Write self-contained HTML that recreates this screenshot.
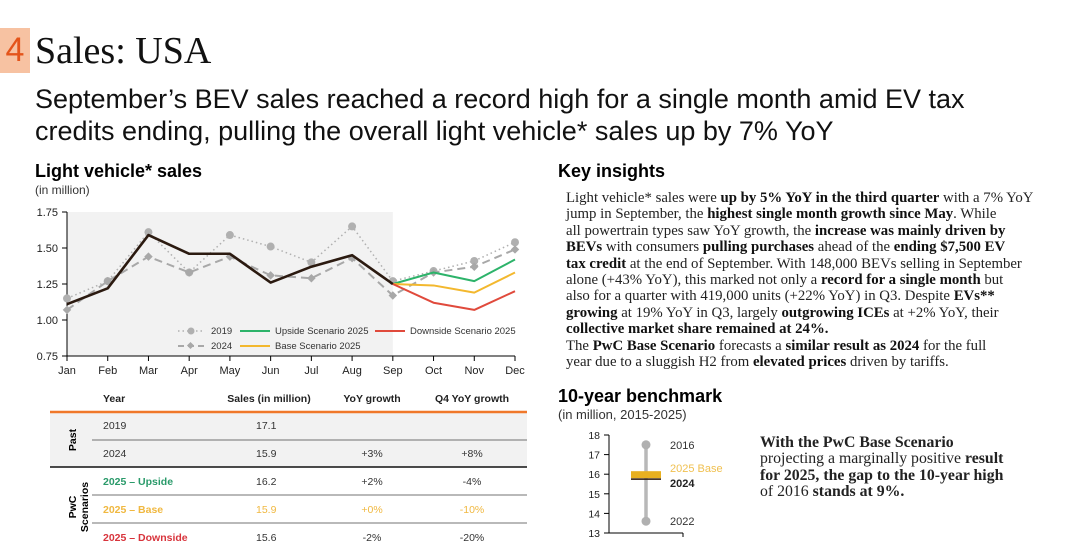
<!DOCTYPE html>
<html><head><meta charset="utf-8">
<style>
body{margin:0;width:1080px;height:560px;background:#fff;position:relative;overflow:hidden;font-family:"Liberation Sans",sans-serif;color:#000}
.a{position:absolute;white-space:nowrap}
.serif{font-family:"Liberation Serif",serif}
#ins{left:566px;top:190px;font-size:14.8px;line-height:16.4px;color:#222}
#ins b{color:#111}
#bm{left:760px;top:435px;font-size:15.8px;line-height:16.4px;color:#222}
</style></head><body>
<div class="a" style="left:0;top:28px;width:30px;height:45px;background:#f7c2a2;color:#e4541a;font-size:34px;line-height:45px;text-align:center">4</div>
<div class="a serif" style="left:35px;top:29px;font-size:38px;line-height:44px;color:#111">Sales: USA</div>
<div class="a" style="left:35px;top:83px;font-size:27px;line-height:32px;color:#111">September’s BEV sales reached a record high for a single month amid EV tax<br>credits ending, pulling the overall light vehicle* sales up by 7% YoY</div>
<div class="a" style="left:35px;top:161px;font-size:18px;font-weight:bold">Light vehicle* sales</div>
<div class="a" style="left:35px;top:183px;font-size:12px;color:#333">(in million)</div>
<div class="a" style="left:558px;top:161px;font-size:18px;font-weight:bold">Key insights</div>
<div class="a serif" id="ins">Light vehicle* sales were <b>up by 5% YoY in the third quarter</b> with a 7% YoY<br>jump in September, the <b>highest single month growth since May</b>. While<br>all powertrain types saw YoY growth, the <b>increase was mainly driven by</b><br><b>BEVs</b> with consumers <b>pulling purchases</b> ahead of the <b>ending $7,500 EV</b><br><b>tax credit</b> at the end of September. With 148,000 BEVs selling in September<br>alone (+43% YoY), this marked not only a <b>record for a single month</b> but<br>also for a quarter with 419,000 units (+22% YoY) in Q3. Despite <b>EVs**</b><br><b>growing</b> at 19% YoY in Q3, largely <b>outgrowing ICEs</b> at +2% YoY, their<br><b>collective market share remained at 24%.</b><br>The <b>PwC Base Scenario</b> forecasts a <b>similar result as 2024</b> for the full<br>year due to a sluggish H2 from <b>elevated prices</b> driven by tariffs.</div>
<div class="a" style="left:558px;top:386px;font-size:18px;font-weight:bold">10-year benchmark</div>
<div class="a" style="left:558px;top:407px;font-size:13px;color:#333">(in million, 2015-2025)</div>
<div class="a serif" id="bm"><b>With the PwC Base Scenario</b><br>projecting a marginally positive <b>result</b><br><b>for 2025, the gap to the 10-year high</b><br>of 2016 <b>stands at 9%.</b></div>

<svg class="a" style="left:0;top:0" width="1080" height="560">
<g id="lc"></g>
<g id="tb"></g>
<g id="bc"></g>
</svg>
<script>
const months=["Jan","Feb","Mar","Apr","May","Jun","Jul","Aug","Sep","Oct","Nov","Dec"];
const yTicks=[0.75,1.00,1.25,1.50,1.75];
const s2019=[1.15,1.27,1.61,1.33,1.59,1.51,1.40,1.65,1.27,1.34,1.41,1.54];
const s2024=[1.07,1.27,1.44,1.33,1.44,1.31,1.29,1.43,1.17,1.33,1.37,1.49];
const s2025=[1.11,1.22,1.59,1.46,1.46,1.26,1.37,1.45,1.25];
const upside=[1.25,1.33,1.27,1.42];
const base=[1.25,1.24,1.19,1.33];
const downside=[1.25,1.12,1.07,1.20];
const bmTicks=[13,14,15,16,17,18];
const bmHigh=17.5, bmLow=13.6, bm2024=15.9, bmBase=15.95;
const NS="http://www.w3.org/2000/svg";
function mk(p,t,a,txt){const e=document.createElementNS(NS,t);for(const k in a)e.setAttribute(k,a[k]);if(txt!=null)e.textContent=txt;p.appendChild(e);return e;}
const lc=document.getElementById('lc');
const X=i=>67+i*(448/11), Y=v=>356-(v-0.75)*144;
let e=mk(lc,'rect',{x:67,y:Y(1.75),width:X(8)-67,height:Y(0.75)-Y(1.75),fill:'#f2f2f2'});

mk(lc,'line',{x1:67,y1:Y(1.75),x2:67,y2:Y(0.75),stroke:'#000'});
mk(lc,'line',{x1:67,y1:Y(0.75),x2:515,y2:Y(0.75),stroke:'#000'});
yTicks.forEach(v=>{mk(lc,'line',{x1:62,y1:Y(v),x2:67,y2:Y(v),stroke:'#000'});
 e=mk(lc,'text',{x:58,y:Y(v)+4,'text-anchor':'end','font-size':11,fill:'#222'},v.toFixed(2));
 });
months.forEach((m,i)=>{mk(lc,'line',{x1:X(i),y1:Y(0.75),x2:X(i),y2:Y(0.75)+5,stroke:'#000'});
 e=mk(lc,'text',{x:X(i),y:Y(0.75)+18,'text-anchor':'middle','font-size':11,fill:'#222'},m);
 });
function line(arr,off,col,w,dash,name){const pts=arr.map((v,i)=>X(i+off)+','+Y(v)).join(' ');
 const a={points:pts,fill:'none',stroke:col,'stroke-width':w,'stroke-linejoin':'round'};if(dash)a['stroke-dasharray']=dash;
 const l=mk(lc,'polyline',a);return l;}
line(s2019,0,'#b0b0b0',1.5,'1.5,3','line-2019');
s2019.forEach((v,i)=>{e=mk(lc,'circle',{cx:X(i),cy:Y(v),r:4,fill:'#b0b0b0'});});
line(s2024,0,'#a8a8a8',2,'8,5','line-2024');
s2024.forEach((v,i)=>{e=mk(lc,'rect',{x:X(i)-3,y:Y(v)-3,width:6,height:6,fill:'#a8a8a8',transform:`rotate(45 ${X(i)} ${Y(v)})`});});
line(upside,8,'#2db36a',2,null,'line-upside');
line(base,8,'#f3b82e',2,null,'line-base');
line(downside,8,'#e04a3c',2,null,'line-downside');
line(s2025,0,'#2b1a10',2.6,null,'line-2025-actual');
const lg=mk(lc,'g',{'font-size':9.5,fill:'#333'});
mk(lg,'line',{x1:178,y1:331,x2:204,y2:331,stroke:'#b0b0b0','stroke-width':1.5,'stroke-dasharray':'1.5,3'});mk(lg,'circle',{cx:191,cy:331,r:3.5,fill:'#b0b0b0'});mk(lg,'text',{x:211,y:334},'2019');
mk(lg,'line',{x1:178,y1:346,x2:204,y2:346,stroke:'#a8a8a8','stroke-width':2,'stroke-dasharray':'6,4'});mk(lg,'rect',{x:188,y:343,width:5,height:5,fill:'#a8a8a8',transform:'rotate(45 190.5 345.5)'});mk(lg,'text',{x:211,y:349},'2024');
mk(lg,'line',{x1:240,y1:331,x2:270,y2:331,stroke:'#2db36a','stroke-width':2});mk(lg,'text',{x:275,y:334},'Upside Scenario 2025');
mk(lg,'line',{x1:240,y1:346,x2:270,y2:346,stroke:'#f3b82e','stroke-width':2});mk(lg,'text',{x:275,y:349},'Base Scenario 2025');
mk(lg,'line',{x1:375,y1:331,x2:405,y2:331,stroke:'#e04a3c','stroke-width':2});mk(lg,'text',{x:410,y:334},'Downside Scenario 2025');
const tb=document.getElementById('tb');
mk(tb,'rect',{x:50,y:413,width:477,height:54,fill:'#f2f2f2'});
const hd=[["Year",103,'start'],["Sales (in million)",269,'middle'],["YoY growth",372,'middle'],["Q4 YoY growth",472,'middle']];
hd.forEach(h=>{e=mk(tb,'text',{x:h[1],y:402,'text-anchor':h[2],'font-size':10.5,'font-weight':'bold',fill:'#222'},h[0]);});
mk(tb,'line',{x1:50,y1:412,x2:527,y2:412,stroke:'#f0782a','stroke-width':2.5});
mk(tb,'line',{x1:92,y1:440,x2:527,y2:440,stroke:'#444','stroke-width':0.8});
mk(tb,'line',{x1:50,y1:467,x2:527,y2:467,stroke:'#111','stroke-width':1.5});
mk(tb,'line',{x1:92,y1:495,x2:527,y2:495,stroke:'#444','stroke-width':0.8});
mk(tb,'line',{x1:92,y1:523,x2:527,y2:523,stroke:'#444','stroke-width':0.8});
mk(tb,'text',{transform:'translate(76 440) rotate(-90)','text-anchor':'middle','font-size':10.5,'font-weight':'bold'},'Past');
mk(tb,'text',{transform:'translate(76 507) rotate(-90)','text-anchor':'middle','font-size':10.5,'font-weight':'bold'},'PwC');
mk(tb,'text',{transform:'translate(88 507) rotate(-90)','text-anchor':'middle','font-size':10.5,'font-weight':'bold'},'Scenarios');
const rows=[["2019","17.1","","",'#333',false,429],["2024","15.9","+3%","+8%",'#333',false,457],["2025 – Upside","16.2","+2%","-4%",'#2a9a6a',true,485],["2025 – Base","15.9","+0%","-10%",'#f0b840',true,513],["2025 – Downside","15.6","-2%","-20%",'#d8343c',true,541]];
rows.forEach(r=>{const c=r[4];const g=mk(tb,'g',{'font-size':10.5});
 mk(g,'text',{x:103,y:r[6],fill:c,'font-weight':r[5]?'bold':'normal'},r[0]);
 const cc=r[0].includes('Base')?c:'#333';
 mk(g,'text',{x:256,y:r[6],fill:cc},r[1]);
 mk(g,'text',{x:372,y:r[6],'text-anchor':'middle',fill:cc},r[2]);
 mk(g,'text',{x:472,y:r[6],'text-anchor':'middle',fill:cc},r[3]);});
const bc=document.getElementById('bc');
const BY=v=>533-(v-13)*(98/5);
mk(bc,'line',{x1:609,y1:BY(18),x2:609,y2:BY(13),stroke:'#000'});
mk(bc,'line',{x1:609,y1:BY(13),x2:683,y2:BY(13),stroke:'#000'});
mk(bc,'line',{x1:683,y1:BY(13),x2:683,y2:BY(13)+4,stroke:'#000'});
bmTicks.forEach(v=>{mk(bc,'line',{x1:604,y1:BY(v),x2:609,y2:BY(v),stroke:'#000'});
 e=mk(bc,'text',{x:600,y:BY(v)+4,'text-anchor':'end','font-size':10.5,fill:'#222'},v);});
e=mk(bc,'line',{x1:646,y1:BY(bmHigh),x2:646,y2:BY(bmLow),stroke:'#b8b8b8','stroke-width':3.5});
mk(bc,'circle',{cx:646,cy:BY(bmHigh),r:4.5,fill:'#b0b0b0'});
mk(bc,'circle',{cx:646,cy:BY(bmLow),r:4.5,fill:'#b0b0b0'});
e=mk(bc,'rect',{x:631,y:BY(bmBase)-4,width:30,height:7,fill:'#e8b020'});
e=mk(bc,'line',{x1:631,y1:BY(bm2024)+3,x2:661,y2:BY(bm2024)+3,stroke:'#2b1a10','stroke-width':1.5});
mk(bc,'text',{x:670,y:BY(bmHigh)+4,'font-size':11,fill:'#333'},'2016');
mk(bc,'text',{x:670,y:BY(bmBase)-3,'font-size':11,fill:'#f0c050'},'2025 Base');
mk(bc,'text',{x:670,y:BY(bm2024)+11,'font-size':11,'font-weight':'bold',fill:'#222'},'2024');
mk(bc,'text',{x:670,y:BY(bmLow)+4,'font-size':11,fill:'#333'},'2022');
</script>
</body></html>
